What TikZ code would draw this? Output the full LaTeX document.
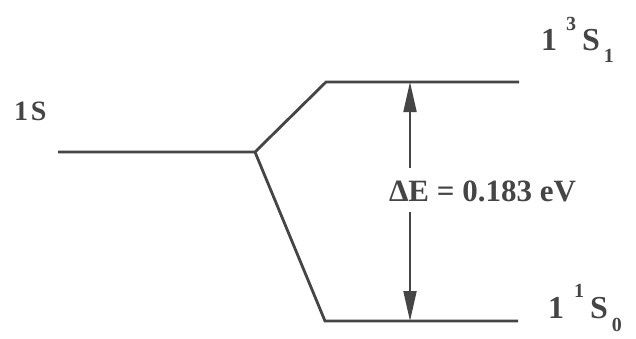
\documentclass[tikz,border=0pt]{standalone}
\usepackage{fontspec}
\setmainfont{Liberation Serif}
\usetikzlibrary{arrows.meta}
\definecolor{ink}{HTML}{454545}
\begin{document}
\begin{tikzpicture}[x=1pt,y=-1pt,
  levelline/.style={draw=ink,line width=2.8pt,line join=miter},
  gaparrow/.style={draw=ink,line width=2pt,-{Triangle[length=30pt,width=13pt]}},
  lbl/.style={inner sep=0pt,outer sep=0pt,text=ink,font=\bfseries,anchor=base west},
]
\useasboundingbox[fill=white] (0,0) rectangle (636,338);
% level points
\coordinate (s0) at (58,152);
\coordinate (j) at (255,152);
\coordinate (tl) at (326,82);
\coordinate (tr) at (519,82);
\coordinate (bl) at (325,321);
\coordinate (br) at (518,321);
% arrow points
\coordinate (at) at (410,82);
\coordinate (ab) at (410,321);
\coordinate (au) at (410,168);
\coordinate (ad) at (410,212);
% levels
\draw[levelline] (s0) -- (j) -- (tl) -- (tr);
\draw[levelline] (j) -- (bl) -- (br);
% splitting arrow
\draw[gaparrow] (au) -- (at);
\draw[gaparrow] (ad) -- (ab);
% labels
\node[lbl] (l1s) at (14,120) {\fontsize{28pt}{28pt}\selectfont 1\kern3pt S};
\node[lbl] (dE) at (389,201) {\fontsize{31pt}{31pt}\selectfont ΔE = 0.183 eV};
\node[lbl] (trip) at (541,50) {\fontsize{32pt}{32pt}\selectfont 1\kern9pt\raisebox{20pt}{\fontsize{20pt}{20pt}\selectfont 3}\kern6pt S\kern4pt\raisebox{-12pt}{\fontsize{20pt}{20pt}\selectfont 1}};
\node[lbl] (sing) at (548,318) {\fontsize{32pt}{32pt}\selectfont 1\kern10pt\raisebox{21pt}{\fontsize{20pt}{20pt}\selectfont 1}\kern6pt S\kern4pt\raisebox{-13pt}{\fontsize{20pt}{20pt}\selectfont 0}};
\end{tikzpicture}
\end{document}
